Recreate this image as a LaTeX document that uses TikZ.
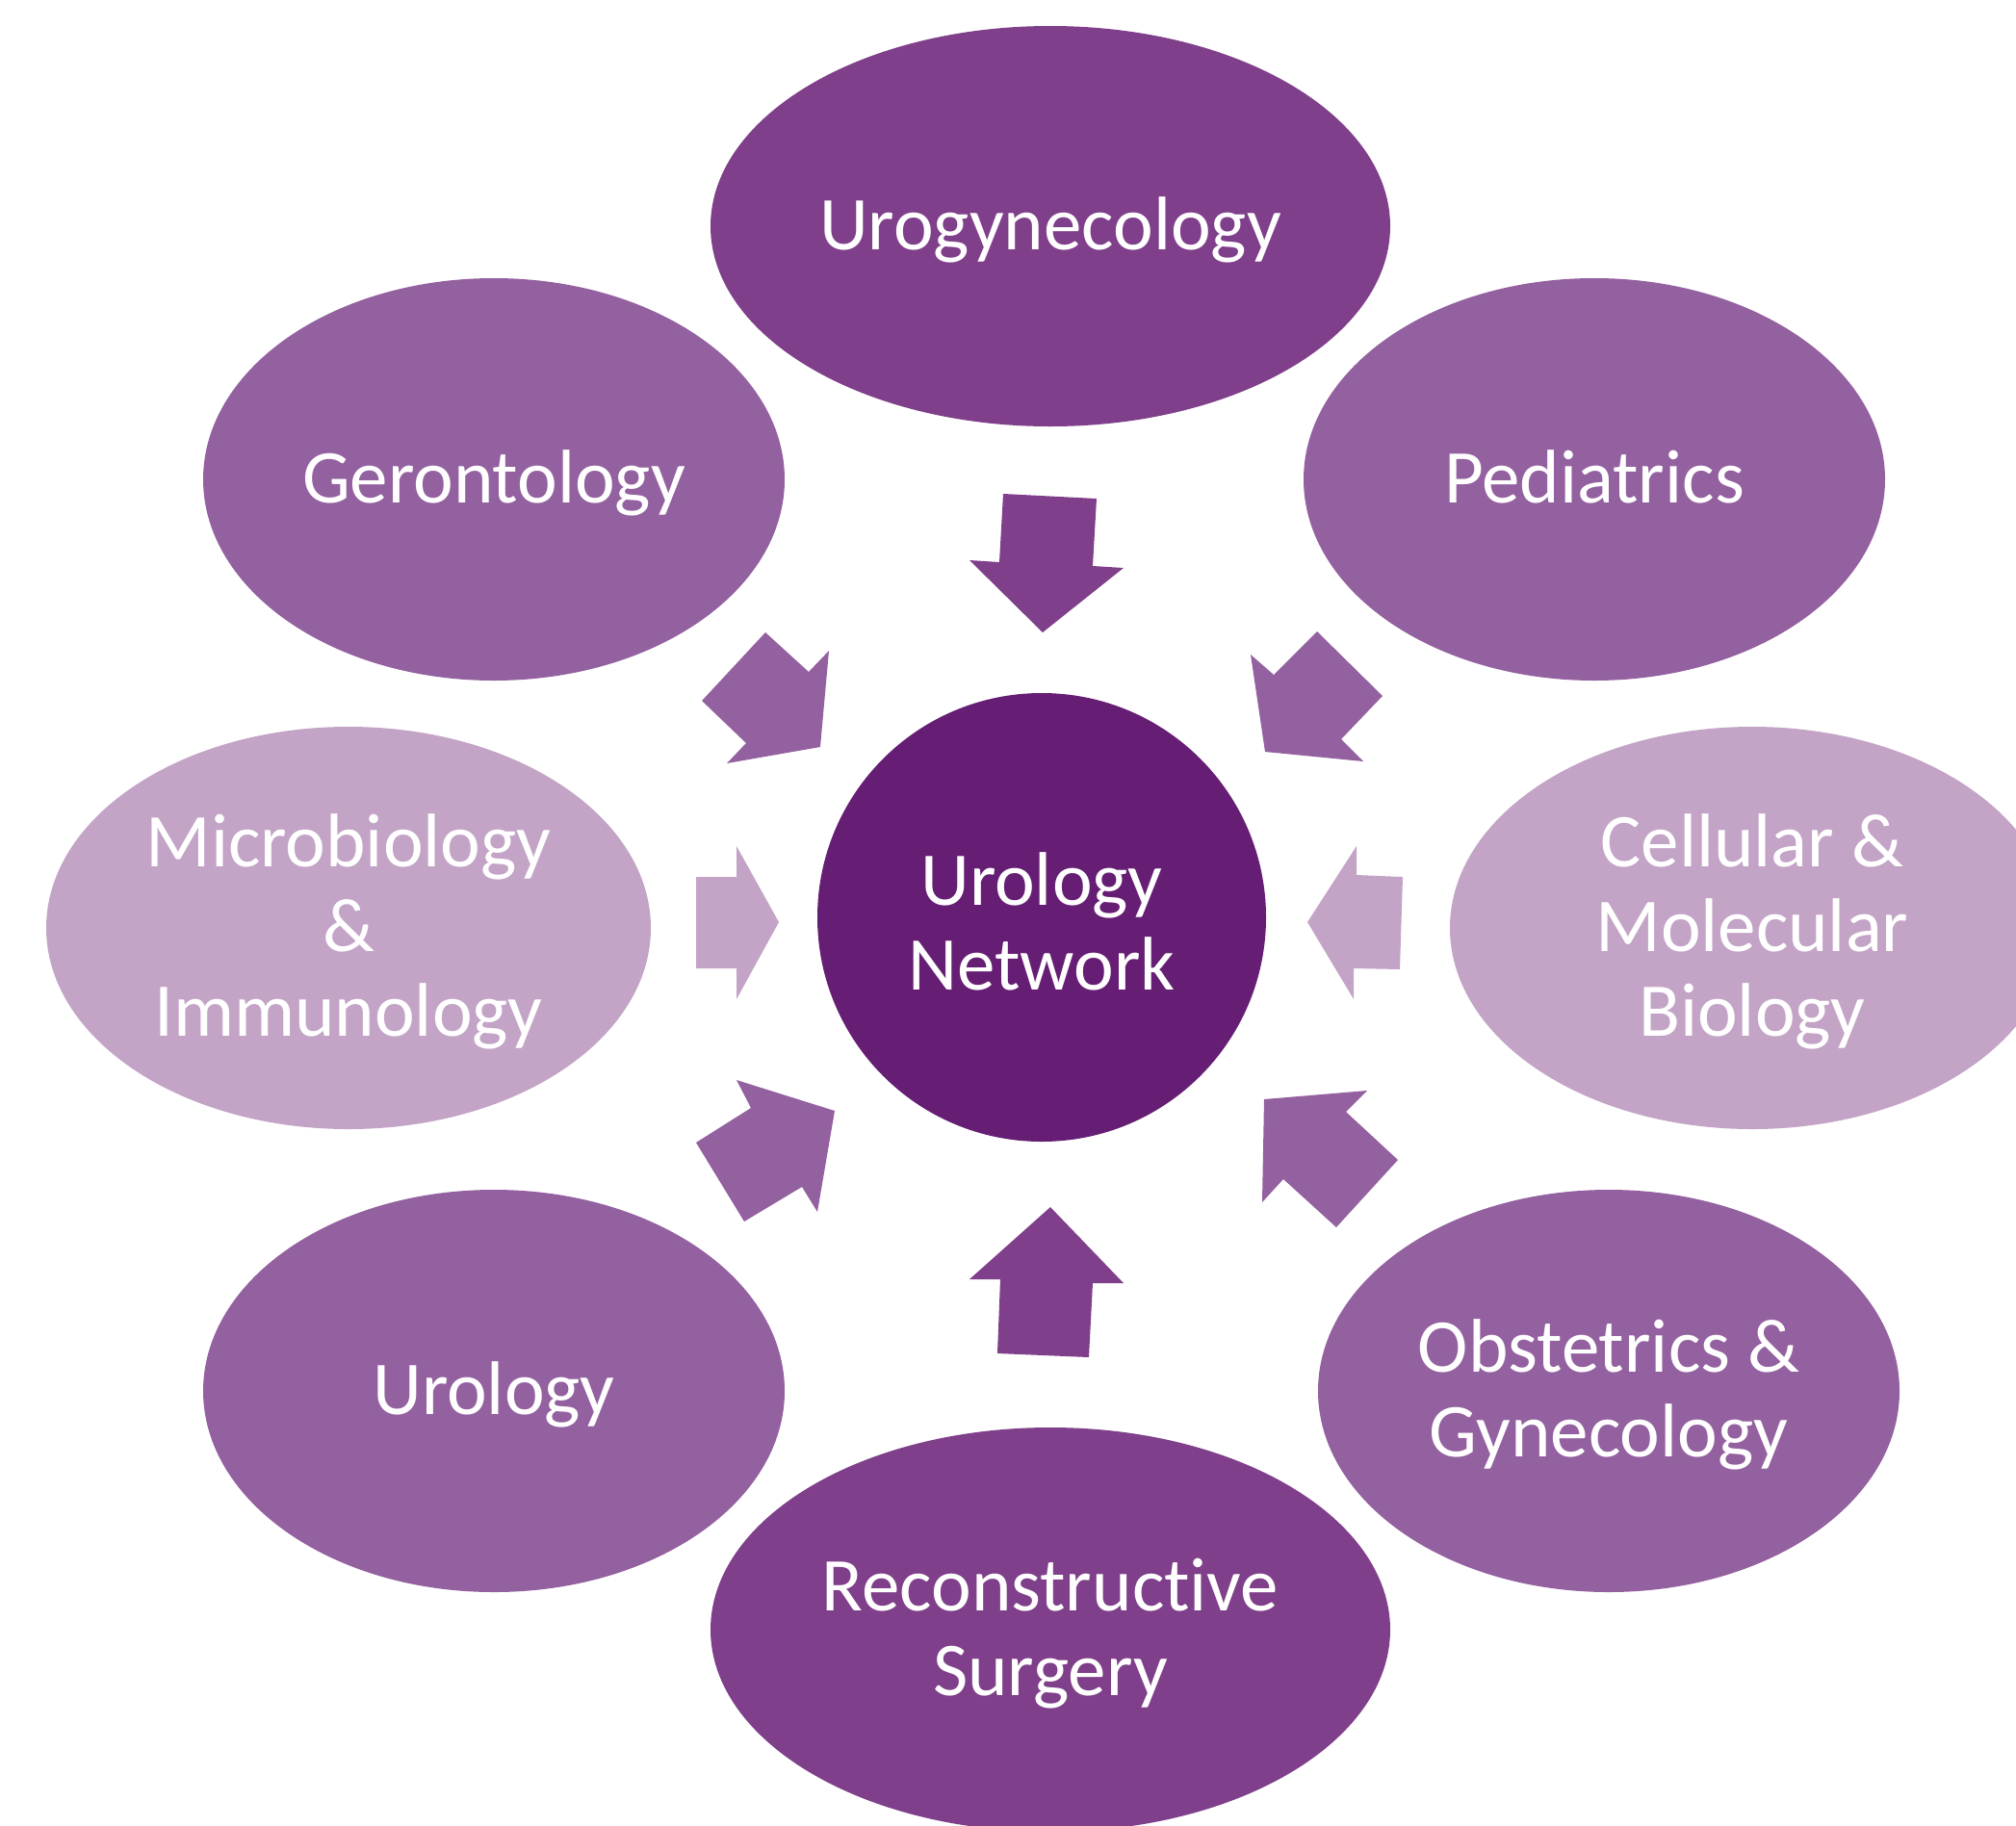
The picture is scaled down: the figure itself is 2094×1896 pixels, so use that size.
\documentclass[tikz,border=0pt]{standalone}
\usepackage{fontspec}
\setmainfont{Carlito}[Ligatures=NoCommon]
\usetikzlibrary{shapes.geometric}
\definecolor{cdark}{HTML}{661E74}
\definecolor{cmain}{HTML}{7F3F8A}
\definecolor{cmid}{HTML}{9461A0}
\definecolor{clight}{HTML}{C3A4C7}
\tikzset{
  blob/.style={ellipse, inner sep=0pt, draw=none},
  txt/.style={text=white, align=center, inner sep=0pt, yshift=-2pt,
    font=\fontsize{39.5pt}{44pt}\selectfont}
}
\begin{document}
\begin{tikzpicture}[x=0.5pt,y=-0.5pt]
\useasboundingbox (0,0) rectangle (2094,1896);
\clip (0,0) rectangle (2094,1896);
\fill[white] (0,0) rectangle (2094,1896);
% nodes
\node[blob, fill=cmain, minimum width=353pt, minimum height=208pt, label={[txt]center:Urogynecology}] (urogyn) at (1091,235) {};
\node[blob, fill=cmid, minimum width=302pt, minimum height=209pt, label={[txt]center:Gerontology}] (geron) at (513,498) {};
\node[blob, fill=cmid, minimum width=302pt, minimum height=209pt, label={[txt]center:Pediatrics\vphantom{gy}}] (pedia) at (1656,498) {};
\node[blob, fill=clight, minimum width=314pt, minimum height=209pt, label={[txt]center:Microbiology\\\&\\Immunology}] (micro) at (362,964) {};
\node[blob, fill=clight, minimum width=314pt, minimum height=209pt, label={[txt]center:Cellular \&\\Molecular\\Biology}] (cell) at (1820,964) {};
\node[blob, fill=cmid, minimum width=302pt, minimum height=209pt, label={[txt]center:Urology}] (urol) at (513,1445) {};
\node[blob, fill=cmid, minimum width=302pt, minimum height=209pt, label={[txt]center:Obstetrics \&\\Gynecology}] (obst) at (1671,1445) {};
\node[blob, fill=cmain, minimum width=353pt, minimum height=210pt, label={[txt]center:Reconstructive\\Surgery}] (recon) at (1091,1693) {};
\node[blob, circle, fill=cdark, minimum size=233pt, label={[txt]center:Urology\\Network}] (center) at (1082,953) {};
% block arrows
\fill[cmain] (1042,513) -- (1139,518) -- (1135,588) -- (1167,590) -- (1083,657) -- (1007,582) -- (1038,584) -- cycle;
\fill[cmid] (795,657) -- (840,698) -- (861,676) -- (852,776) -- (755,793) -- (775,772) -- (729,728) -- cycle;
\fill[cmid] (1299,680) -- (1323,701) -- (1368,656) -- (1436,723) -- (1393,768) -- (1416,791) -- (1314,781) -- cycle;
\fill[clight] (723,911) -- (765,911) -- (765,879) -- (809,958) -- (765,1038) -- (765,1006) -- (723,1006) -- cycle;
\fill[clight] (1457,911) -- (1409,909) -- (1409,879) -- (1358,958) -- (1406,1038) -- (1406,1006) -- (1454,1007) -- cycle;
\fill[cmid] (765,1122) -- (867,1154) -- (849,1259) -- (833,1233) -- (773,1269) -- (723,1187) -- (780,1151) -- cycle;
\fill[cmid] (1313,1142) -- (1420,1133) -- (1398,1155) -- (1452,1205) -- (1388,1275) -- (1333,1225) -- (1311,1249) -- cycle;
\fill[cmain] (1091,1254) -- (1167,1333) -- (1135,1333) -- (1131,1410) -- (1036,1406) -- (1039,1329) -- (1007,1329) -- cycle;
\end{tikzpicture}
\end{document}
